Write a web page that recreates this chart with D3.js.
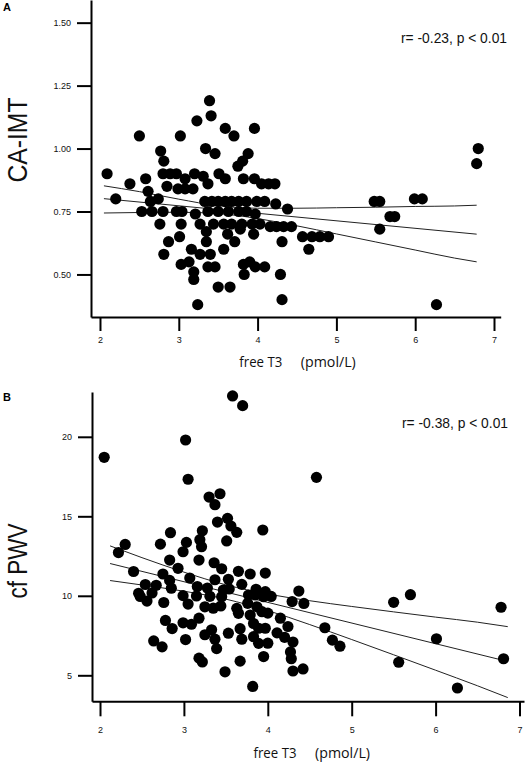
<!DOCTYPE html>
<html><head><meta charset="utf-8">
<script src="https://cdn.jsdelivr.net/npm/d3@7"></script>
<style>body{margin:0;background:#fff}</style>
</head><body>
<svg id="c" width="528" height="763"></svg>
<script>
// ---------- data ----------
const ticksX = [2, 3, 4, 5, 6, 7];
const ticksA = [0.50, 0.75, 1.00, 1.25, 1.50];
const ticksB = [5, 10, 15, 20];
const labelA = "r= -0.23, p < 0.01";
const labelB = "r= -0.38, p < 0.01";

// Panel A: free T3 vs CA-IMT
const fT3A = [2.09,2.20,2.38,2.50,2.58,2.61,2.53,2.64,2.66,2.74,2.80,2.97,3.04,
  2.77,2.81,2.80,2.89,2.97,2.85,2.99,3.08,3.18,
  3.02,3.08,3.20,3.23,3.39,3.41,3.59,3.70,3.96,
  3.34,3.46,3.88,3.81,3.75,3.31,3.37,3.51,3.59,3.82,3.96,4.05,4.14,4.22,
  3.33,3.42,3.50,3.59,3.67,3.76,3.86,3.99,4.09,4.23,4.38,
  3.21,3.37,3.50,3.63,3.76,3.86,3.97,
  2.76,3.03,3.27,3.44,3.57,3.67,3.80,3.93,4.03,
  3.35,3.62,3.78,3.95,4.16,4.24,4.33,4.43,4.57,4.69,4.79,4.90,
  4.31,4.65,3.01,2.87,2.81,3.35,3.71,3.57,3.16,3.27,3.40,
  3.03,3.13,3.19,3.19,3.37,3.46,3.82,3.90,3.97,4.09,3.83,4.29,3.50,3.65,3.24,4.31,
  6.80,6.78,5.48,5.55,5.99,6.09,5.68,5.74,5.55,6.27];
const imtA = [0.90,0.80,0.86,1.05,0.88,0.83,0.75,0.79,0.75,0.80,0.75,0.75,0.75,
  0.99,0.95,0.90,0.90,0.90,0.85,0.84,0.84,0.84,
  1.05,0.88,0.90,1.11,1.19,1.13,1.08,1.05,1.08,
  1.00,0.98,0.98,0.95,0.93,0.89,0.86,0.90,0.88,0.88,0.88,0.86,0.86,0.86,
  0.79,0.79,0.79,0.79,0.79,0.79,0.79,0.79,0.79,0.78,0.76,
  0.74,0.75,0.75,0.75,0.75,0.75,0.74,
  0.70,0.70,0.70,0.70,0.70,0.70,0.70,0.70,0.70,
  0.67,0.66,0.68,0.66,0.69,0.69,0.69,0.69,0.65,0.65,0.65,0.65,
  0.63,0.60,0.65,0.63,0.58,0.63,0.63,0.60,0.60,0.58,0.58,
  0.54,0.55,0.51,0.48,0.53,0.53,0.54,0.55,0.53,0.53,0.50,0.50,0.45,0.45,0.38,0.40,
  1.00,0.94,0.79,0.79,0.80,0.80,0.73,0.73,0.68,0.38];

// Panel A fit line and 95% band
const fitAx = [2.05, 6.78];
const fitAy = [0.801, 0.660];
const bandAx = [2.05, 2.5, 3.0, 3.5, 4.0, 4.5, 5.0, 5.5, 6.0, 6.5, 6.78];
const bandAup = [0.852, 0.829, 0.799, 0.773, 0.763, 0.763, 0.765, 0.767, 0.770, 0.772, 0.775];
const bandAlo = [0.744, 0.746, 0.747, 0.742, 0.722, 0.693, 0.661, 0.629, 0.597, 0.565, 0.550];

// Panel B: free T3 vs cf PWV
const fT3B = [2.05,3.58,3.70,3.02,3.05,3.30,3.43,3.37,3.40,3.52,3.56,3.63,3.51,3.94,
  2.84,2.72,3.03,2.99,3.22,3.19,3.21,2.30,2.22,2.83,3.18,2.93,3.36,3.45,2.40,2.75,
  3.65,3.79,3.97,4.58,2.83,3.07,2.54,2.67,2.85,3.16,3.28,3.37,3.53,3.47,3.54,3.69,
  3.86,3.97,4.37,2.46,2.62,2.48,2.56,2.76,2.99,3.05,3.15,3.25,3.35,3.44,3.45,3.63,
  3.65,3.77,3.85,3.95,4.04,3.76,3.87,3.93,4.00,3.79,3.83,4.15,4.29,4.43,2.78,2.86,
  2.99,3.09,3.18,3.25,3.33,3.37,3.39,3.02,2.64,2.74,3.53,3.67,3.69,3.89,3.97,3.83,
  3.89,4.00,4.11,4.20,4.24,4.30,4.27,4.28,3.95,3.67,3.18,3.22,3.49,4.30,4.42,3.82,
  4.68,4.77,4.86,5.50,5.70,5.56,6.01,6.26,6.78,6.81,3.31];
const pwvB = [18.71,22.57,21.96,19.80,17.33,16.21,16.42,15.73,14.64,14.87,14.39,13.99,13.45,14.14,
  13.97,13.25,13.36,12.77,14.09,13.53,13.09,13.23,12.72,12.25,12.25,11.73,12.08,11.70,11.53,11.37,
  11.54,11.37,11.43,17.45,10.97,11.12,10.71,10.66,10.48,10.58,10.49,11.01,11.04,10.36,10.43,10.72,
  10.41,10.26,10.30,10.16,10.18,9.96,9.67,9.58,10.01,9.48,9.99,9.31,9.22,9.36,9.94,9.21,
  8.90,10.05,10.05,9.94,9.96,9.53,9.31,9.00,8.91,8.79,8.26,8.59,9.64,9.52,8.45,7.94,
  8.30,8.21,8.59,7.55,7.86,7.27,6.68,7.25,7.16,6.79,7.65,7.93,7.27,7.96,7.96,7.43,
  7.01,7.02,7.67,7.39,8.07,7.09,6.47,6.04,6.18,5.89,6.08,5.84,5.22,5.27,5.40,4.30,
  7.99,7.21,6.83,9.59,10.07,5.82,7.30,4.20,9.28,6.04,9.97];

// Panel B fit line and 95% band
const fitBx = [2.12, 6.86];
const fitBy = [12.03, 5.87];
const bandBx = [2.12, 2.5, 3.0, 3.5, 4.0, 4.5, 5.0, 5.5, 6.0, 6.5, 6.86];
const bandBup = [13.14, 12.40, 11.49, 10.69, 10.11, 9.69, 9.33, 8.99, 8.66, 8.34, 8.06];
const bandBlo = [10.96, 10.68, 10.29, 9.79, 9.07, 8.19, 7.25, 6.29, 5.32, 4.34, 3.60];

// ---------- drawing ----------
const svg = d3.select("#c");
svg.append("rect").attr("width", 528).attr("height", 763).attr("fill", "#fff");

const tickFont = "'Liberation Sans', Arial, sans-serif";
const titleFont = "'Open Sans', 'Liberation Sans', sans-serif";

function panel(o) {
  const g = svg.append("g");
  const x = d3.scaleLinear().domain(o.xDom).range(o.xRange);
  const y = d3.scaleLinear().domain(o.yDom).range(o.yRange);

  // axes
  const ax = g.append("g").attr("transform", `translate(0,${o.yRange[0]})`)
    .call(d3.axisBottom(x).tickValues(ticksX).tickFormat(d3.format("d"))
      .tickSizeInner(o.xTick).tickSizeOuter(0).tickPadding(o.xPad));
  const ay = g.append("g").attr("transform", `translate(${o.xRange[0]},0)`)
    .call(d3.axisLeft(y).tickValues(o.yTicks).tickFormat(o.yFmt)
      .tickSizeInner(14).tickSizeOuter(0).tickPadding(6));
  [ax, ay].forEach(a => {
    a.selectAll("path.domain").attr("stroke", "#000").attr("stroke-width", 2);
    a.selectAll(".tick line").attr("stroke", "#000").attr("stroke-width", 2);
    a.selectAll(".tick text").attr("font-family", tickFont).attr("font-size", 9).attr("fill", "#111");
  });

  // band and fit lines
  const line = d3.line().x(d => x(d[0])).y(d => y(d[1])).curve(d3.curveMonotoneX);
  const lineStyle = sel => sel.attr("fill", "none").attr("stroke", "#222").attr("stroke-width", 1);
  g.append("path").datum(o.bandX.map((v, i) => [v, o.bandUp[i]])).attr("d", line).call(lineStyle);
  g.append("path").datum(o.bandX.map((v, i) => [v, o.bandLo[i]])).attr("d", line).call(lineStyle);
  g.append("path").datum(o.fitX.map((v, i) => [v, o.fitY[i]])).attr("d", line).call(lineStyle);

  // points
  g.append("g").selectAll("circle").data(o.xs.map((v, i) => [v, o.ys[i]])).join("circle")
    .attr("cx", d => x(d[0])).attr("cy", d => y(d[1])).attr("r", 5.6).attr("fill", "#000");

  // texts
  g.append("text").attr("x", o.annX).attr("y", o.annY).attr("font-family", tickFont)
    .attr("font-size", 14).attr("textLength", 106).attr("lengthAdjust", "spacingAndGlyphs")
    .attr("fill", "#111").text(o.ann);
  g.append("text").attr("transform", `translate(27,${o.yTitleC}) rotate(-90)`)
    .attr("text-anchor", "middle").attr("font-family", tickFont).attr("font-size", 27)
    .attr("textLength", o.yTitleLen).attr("lengthAdjust", "spacingAndGlyphs")
    .attr("fill", "#111").text(o.yTitle);
  g.append("text").attr("x", o.xTitleX).attr("y", o.xTitleY).attr("font-family", titleFont)
    .attr("font-size", 14).attr("textLength", 43).attr("lengthAdjust", "spacingAndGlyphs")
    .attr("fill", "#111").text("free T3");
  g.append("text").attr("x", o.xTitleX + 61.5).attr("y", o.xTitleY).attr("font-family", titleFont)
    .attr("font-size", 14).attr("textLength", 55).attr("lengthAdjust", "spacingAndGlyphs")
    .attr("fill", "#111").text("(pmol/L)");
  g.append("text").attr("x", 3).attr("y", o.letterY).attr("font-family", tickFont)
    .attr("font-weight", "bold").attr("font-size", 11).attr("fill", "#000").text(o.letter);
}

panel({
  xDom: [1.886, 7.085], xRange: [91, 500.7],
  yDom: [0.331, 1.59], yRange: [317, 0],
  xTick: 14, xPad: 6, yTicks: ticksA, yFmt: d3.format(".2f"),
  xs: fT3A, ys: imtA,
  fitX: fitAx, fitY: fitAy, bandX: bandAx, bandUp: bandAup, bandLo: bandAlo,
  ann: labelA, annX: 401, annY: 43,
  yTitle: "CA-IMT", yTitleC: 140, yTitleLen: 85,
  xTitleX: 239.3, xTitleY: 367,
  letter: "A", letterY: 11
});

panel({
  xDom: [1.9046, 7.0536], xRange: [92, 524],
  yDom: [3.365, 22.818], yRange: [701.3, 392],
  xTick: 15, xPad: 10, yTicks: ticksB, yFmt: d3.format("d"),
  xs: fT3B, ys: pwvB,
  fitX: fitBx, fitY: fitBy, bandX: bandBx, bandUp: bandBup, bandLo: bandBlo,
  ann: labelB, annX: 402, annY: 428,
  yTitle: "cf PWV", yTitleC: 561, yTitleLen: 75,
  xTitleX: 253.5, xTitleY: 758,
  letter: "B", letterY: 401
});
</script>
</body></html>
